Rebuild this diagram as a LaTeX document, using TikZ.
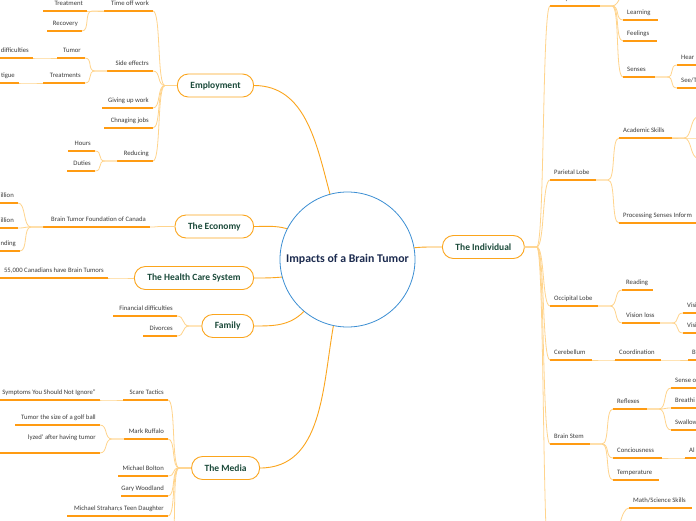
\documentclass[tikz,border=0pt]{standalone}
\usepackage{fontspec}
\setmainfont{Carlito}
\definecolor{mmorange}{HTML}{FBA51D}
\definecolor{mmline}{HTML}{FF9B12}
\definecolor{mmlink}{HTML}{FFD48C}
\definecolor{mmgreen}{HTML}{1B4A3A}
\definecolor{mmnavy}{HTML}{1C2B4F}
\definecolor{mmblue}{HTML}{3B8ED3}
\definecolor{mmtext}{HTML}{3C3C3C}
\tikzstyle{central} = [circle, draw=mmblue, line width=0.8pt, fill=white, minimum size=135pt, inner sep=0pt, font=\bfseries\fontsize{11.8}{13}\selectfont, text=mmnavy]
\tikzstyle{topic} = [draw=mmorange, line width=0.9pt, rounded corners=11pt, fill=white, minimum height=23pt, inner xsep=13pt, font=\bfseries\fontsize{9.5}{11}\selectfont, text=mmgreen]
\tikzstyle{leaf} = [inner xsep=4pt, inner ysep=3pt, text height=5pt, text depth=2pt, font=\fontsize{6.7}{8}\selectfont, text=mmtext]
\tikzstyle{uline} = [draw=mmline, line width=1.3pt]
\tikzstyle{link} = [draw=mmlink, line width=0.8pt]
\tikzstyle{trunk} = [draw=mmorange, line width=0.9pt]
\tikzstyle{lcurve} = [out=180, in=0, distance=8pt]
\tikzstyle{rcurve} = [out=0, in=180, distance=8pt]
\newcommand{\lleaf}[6][]{%
	\coordinate (#2-s) at (#3,#5);
	\node[leaf, anchor=south east, #1] (#2) at (#4,#5) {#6};
	\draw[uline] (#2-s) -- (#2.south east);}
\newcommand{\rleaf}[6][]{%
	\coordinate (#2-e) at (#4,#5);
	\node[leaf, anchor=south west, #1] (#2) at (#3,#5) {#6};
	\draw[uline] (#2.south west) -- (#2-e);}
\newcommand{\lfan}[2]{\foreach \n in {#2} \draw[link] (#1) -- ++(-12,0) to[lcurve] (\n.south east);}
\newcommand{\rfan}[2]{\foreach \n in {#2} \draw[link] (#1) -- ++(12,0) to[rcurve] (\n.south west);}

\begin{document}
\begin{tikzpicture}[x=1pt, y=-1pt]
	\fill[white] (0,0) rectangle (696,520);
	\useasboundingbox (0,0) rectangle (696,520);

	\node[central] (main) at (347.5,259.5) {Impacts of a Brain Tumor};
	\node[topic, anchor=east] (emp) at (254,85.5) {Employment};
	\node[topic, anchor=east] (econ) at (254,226.5) {The Economy};
	\node[topic, anchor=east] (health) at (254,278) {The Health Care System};
	\node[topic, anchor=east] (family) at (254,326) {Family};
	\node[topic, anchor=east] (media) at (260,468) {The Media};
	\node[topic, anchor=west] (ind) at (442,247) {The Individual};

	\lleaf{timeoff}{104}{153}{11}{Time off work}
	\lleaf{sidefx}{107}{153}{71}{Side effectrs}
	\lleaf{giveup}{102}{153}{108}{Giving up work}
	\lleaf{chjobs}{104}{153}{128}{Chnaging jobs}
	\lleaf{reducing}{117}{153}{161}{Reducing}
	\lleaf{treatment}{43}{87}{11}{Treatment}
	\lleaf{recovery}{47}{82}{31}{Recovery}
	\lleaf{tumor}{57}{85}{58}{Tumor}
	\lleaf{treatments}{43}{85}{83}{Treatments}
	\lleaf{difficult}{-10}{33}{58}{difficulties}
	\lleaf{fatigue}{-10}{19}{83}{tigue}
	\lleaf{hours}{68}{95}{151}{Hours}
	\lleaf{duties}{67}{95}{171}{Duties}

	\lleaf{btf}{43}{150}{227}{Brain Tumor Foundation of Canada}
	\lleaf{mil1}{-10}{18}{203}{illion}
	\lleaf{mil2}{-10}{18}{228}{illion}
	\lleaf{fund}{-10}{20}{251}{nding}
	\lleaf{canadians}{-10}{108}{278}{55,000 Canadians have Brain Tumors}
	\lleaf{findiff}{113}{177}{316}{Financial difficulties}
	\lleaf{divorces}{143}{177}{336}{Divorces}

	\lleaf{scare}{123}{168}{400}{Scare Tactics}
	\lleaf{ignore}{-10}{100}{400}{Symptoms You Should Not Ignore”}
	\lleaf{ruffalo}{124}{168}{439}{Mark Ruffalo}
	\lleaf{golf}{15}{100}{425}{Tumor the size of a golf ball}
	\lleaf[text depth=10pt]{paral}{-10}{100}{453}{lyzed’ after having tumor}
	\lleaf{bolton}{118}{168}{476}{Michael Bolton}
	\lleaf{woodland}{121}{168}{496}{Gary Woodland}
	\lleaf{strahan}{67}{168}{516}{Michael Strahan;s Teen Daughter}
	\coordinate (mediamore) at (170,545);

	\rleaf{temporal}{550}{600}{6}{Temporal Lobe}
	\rleaf{parietal}{550}{596}{180}{Parietal Lobe}
	\rleaf{occipital}{550}{598}{306}{Occipital Lobe}
	\rleaf{cerebellum}{550}{592}{360}{Cerebellum}
	\rleaf{brainstem}{550}{590}{444}{Brain Stem}
	\coordinate (frontal) at (550,570);
	\coordinate (tempup) at (623,-20);
	\rleaf{learning}{623}{658}{20}{Learning}
	\rleaf{feelings}{623}{657}{41}{Feelings}
	\rleaf{senses}{623}{655}{77}{Senses}
	\rleaf{hear}{677}{710}{65}{Hear}
	\rleaf{seet}{677}{710}{88}{See/T}
	\rleaf{academic}{619}{672}{138}{Academic Skills}
	\rleaf{procsense}{619}{710}{223}{Processing Senses Inform}
	\coordinate (acad1) at (698,117);
	\coordinate (acad2) at (698,138);
	\coordinate (acad3) at (698,158);
	\rleaf{reading}{622}{653}{290}{Reading}
	\rleaf{visloss}{622}{660}{323}{Vision loss}
	\rleaf{vis1}{683}{710}{313}{Visi}
	\rleaf{vis2}{683}{710}{333}{Visi}
	\rleaf{coordination}{615}{661}{360}{Coordination}
	\rleaf{balance}{688}{710}{360}{Ba}
	\rleaf{reflexes}{613}{647}{409}{Reflexes}
	\rleaf{conscious}{613}{662}{458}{Conciousness}
	\rleaf{temperature}{613}{659}{480}{Temperature}
	\rleaf{senseo}{671}{710}{388}{Sense o}
	\rleaf{breath}{671}{710}{408}{Breathi}
	\rleaf{swallow}{671}{710}{430}{Swallow}
	\rleaf{alert}{685}{710}{458}{Al}
	\rleaf{mathsci}{629}{692}{508}{Math/Science Skills}
	\coordinate (frontalhub) at (617,545);

	\draw[trunk] (emp.east) to[out=0, in=105] (main.105);
	\draw[trunk] (econ.east) to[out=0, in=165] (main.153);
	\draw[trunk] (health.east) to[out=0, in=185] (main.195);
	\draw[trunk] (family.east) to[out=0, in=225] (main.230);
	\draw[trunk] (media.east) to[out=0, in=260] (main.258);
	\draw[trunk] (ind.west) to[out=180, in=5] (main.10);

	\lfan{emp.west}{timeoff,sidefx,giveup,chjobs,reducing}
	\lfan{timeoff-s}{treatment,recovery}
	\lfan{sidefx-s}{tumor,treatments}
	\lfan{tumor-s}{difficult}
	\lfan{treatments-s}{fatigue}
	\lfan{reducing-s}{hours,duties}
	\lfan{econ.west}{btf}
	\lfan{btf-s}{mil1,mil2,fund}
	\lfan{health.west}{canadians}
	\lfan{family.west}{findiff,divorces}
	\lfan{media.west}{scare,ruffalo,bolton,woodland,strahan}
	\draw[link] (media.west) -- ++(-12,0) to[lcurve] (mediamore);
	\lfan{scare-s}{ignore}
	\lfan{ruffalo-s}{golf,paral}

	\rfan{ind.east}{temporal,parietal,occipital,cerebellum,brainstem}
	\draw[link] (ind.east) -- ++(12,0) to[rcurve] (frontal);
	\rfan{temporal-e}{learning,feelings,senses}
	\draw[link] (temporal-e) -- ++(12,0) to[out=0, in=270, distance=8pt] (tempup);
	\rfan{senses-e}{hear,seet}
	\rfan{parietal-e}{academic,procsense}
	\foreach \n in {acad1,acad2,acad3} \draw[link] (academic-e) -- ++(12,0) to[rcurve] (\n);
	\rfan{occipital-e}{reading,visloss}
	\rfan{visloss-e}{vis1,vis2}
	\rfan{cerebellum-e}{coordination}
	\rfan{coordination-e}{balance}
	\rfan{brainstem-e}{reflexes,conscious,temperature}
	\rfan{reflexes-e}{senseo,breath,swallow}
	\rfan{conscious-e}{alert}
	\draw[link] (frontalhub) to[out=90, in=180, distance=8pt] (mathsci.south west);
\end{tikzpicture}
\end{document}
